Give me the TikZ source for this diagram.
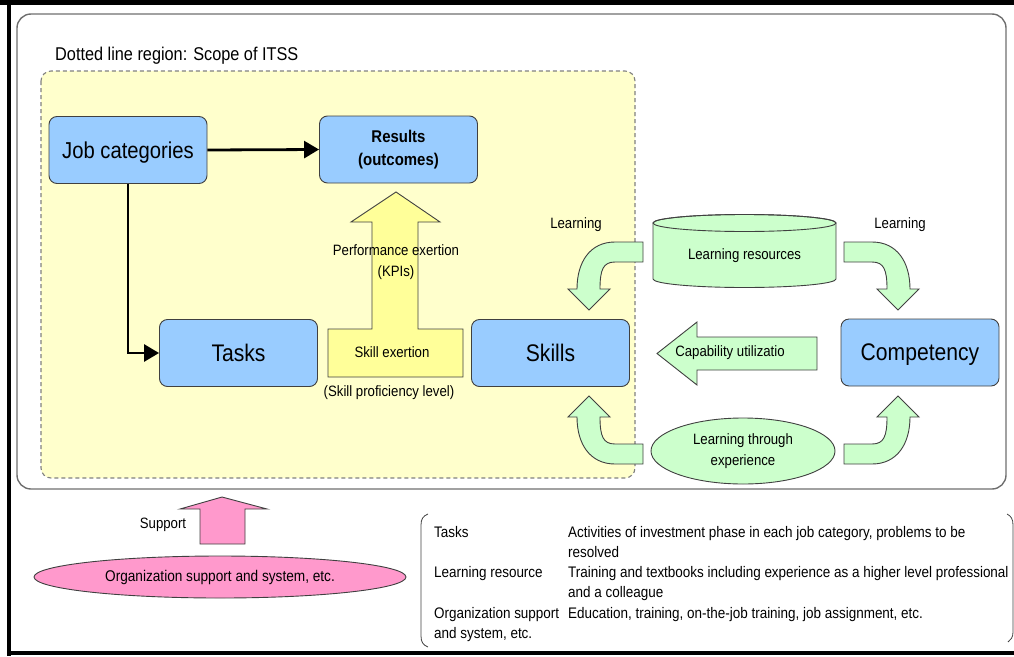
\documentclass[tikz,border=0pt]{standalone}
\usepackage{fontspec}
\setmainfont{Liberation Sans}[FakeStretch=0.88]
\usetikzlibrary{arrows.meta,shapes.geometric}

\definecolor{boxblue}{HTML}{99CCFF}
\definecolor{scopeyellow}{HTML}{FFFFCC}
\definecolor{arrowyellow}{HTML}{FFFF99}
\definecolor{learngreen}{HTML}{CCFFCC}
\definecolor{orgpink}{HTML}{FF99CC}
\definecolor{edgegray}{HTML}{404040}
\definecolor{framegray}{HTML}{6E6E6E}

% outline of the bent block arrow leading from the learning resources to the skills
\newcommand\bentarrowpath{(643,242) -- (615,242) .. controls (590,242) and (577,262) .. (577,289)
  -- (568,289) -- (589,310) -- (610,289) -- (600,289)
  .. controls (600,270) and (603,262) .. (615,262) -- (643,262) -- cycle}

\tikzset{
  rolebox/.style={draw=edgegray, fill=boxblue, line width=0.9pt, rounded corners=8pt,
    minimum width=158pt, minimum height=67pt, inner sep=0pt, align=center},
  link/.style={line width=2.8pt, -{Triangle[length=15pt,width=17pt]}},
  lbl/.style={inner sep=0pt, align=center, font=\fontsize{15}{21}\selectfont},
  blockarrow/.style={draw=edgegray, line width=0.9pt},
  legend/.style={inner sep=0pt, anchor=base west, font=\fontsize{15.3}{20}\selectfont},
}

\begin{document}
\begin{tikzpicture}[x=1pt, y=-1pt]
\useasboundingbox (0,0) rectangle (1014,656);

% black frame
\fill[black] (0,0) rectangle (1014,5);
\fill[black] (7,0) rectangle (11,656);
\fill[black] (7,651) rectangle (1014,655);

% outer rounded panel
\draw[framegray, line width=1.4pt, rounded corners=14pt] (17,14) rectangle (1006,489);

% scope of ITSS
\draw[draw=gray, fill=scopeyellow, line width=1.1pt, dash pattern=on 4pt off 3pt,
      rounded corners=10pt] (41,71) rectangle (635,478);
\node[anchor=west, inner sep=0pt, font=\fontsize{18.5}{22}\selectfont] (scopetitle) at (55,56)
  {Dotted line region: Scope of ITSS};

% role boxes
\node[rolebox, text depth=0pt, font=\fontsize{23}{26}\selectfont] (job) at (128,150) {Job categories};
\node[rolebox, font=\fontsize{17}{23}\selectfont\bfseries] (res) at (398.5,149.5) {Results\\(outcomes)};
\node[rolebox, font=\fontsize{24}{28}\selectfont] (tasks) at (238.5,353) {Tasks};
\node[rolebox, font=\fontsize{24}{28}\selectfont] (skills) at (550.5,353) {Skills};
\node[rolebox, text depth=0pt, font=\fontsize{24}{28}\selectfont] (comp) at (920,352.5) {Competency};

\draw[link] (job.east) -- (res.west);
\draw[link] (job.south) |- (tasks.west);

% skill exertion block arrow
\draw[blockarrow, fill=arrowyellow] (328,329) -- (372,329) -- (372,222) -- (351,222) -- (396,192)
  -- (440,222) -- (418,222) -- (418,329) -- (463,329) -- (463,377) -- (328,377) -- cycle;
\node[lbl] (perf) at (396,262) {Performance exertion\\(KPIs)};
\node[lbl] (exert) at (392,352) {Skill exertion};
\node[lbl] (prof) at (389,393) {(Skill proficiency level)};

% learning resources cylinder
\draw[blockarrow, fill=learngreen] (653,223) -- (653,279)
  arc[start angle=180, end angle=360, x radius=91.5pt, y radius=8.5pt]
  -- (836,223) arc[start angle=0, end angle=180, x radius=91.5pt, y radius=8.5pt] -- cycle;
\draw[blockarrow] (744.5,223) ellipse [x radius=91.5pt, y radius=8.5pt];
\node[lbl] (lres) at (744.5,256) {Learning resources};

% learning through experience
\node[ellipse, draw=edgegray, fill=learngreen, line width=0.9pt, minimum width=184pt,
      minimum height=66pt, inner sep=0pt, align=center, font=\fontsize{15}{21}\selectfont]
  (lexp) at (743,451) {Learning through\\experience};

% bent learning arrows
\draw[blockarrow, fill=learngreen] \bentarrowpath;
\begin{scope}[shift={(1487,0)}, xscale=-1]
  \draw[blockarrow, fill=learngreen] \bentarrowpath;
\end{scope}
\begin{scope}[shift={(0,706)}, yscale=-1]
  \draw[blockarrow, fill=learngreen] \bentarrowpath;
\end{scope}
\begin{scope}[shift={(1487,706)}, xscale=-1, yscale=-1]
  \draw[blockarrow, fill=learngreen] \bentarrowpath;
\end{scope}
\node[lbl] (learnl) at (576,225) {Learning};
\node[lbl] (learnr) at (900,225) {Learning};

% capability utilization arrow
\draw[blockarrow, fill=learngreen] (817,337) -- (697,337) -- (697,322) -- (657,353.5)
  -- (697,385) -- (697,370) -- (817,370) -- cycle;
\node[lbl] (cap) at (730,353) {Capability utilizatio};

% organization support
\draw[blockarrow, fill=orgpink] (200,544) -- (200,509) -- (180,509) -- (222,497) -- (267,509)
  -- (245,509) -- (245,544) -- cycle;
\node[lbl] (sup) at (163,525) {Support};
\node[ellipse, draw=edgegray, fill=orgpink, line width=0.9pt, minimum width=372pt,
      minimum height=42pt, inner sep=0pt, font=\fontsize{15.5}{21}\selectfont]
  (org) at (220,577) {Organization support and system, etc.};

% legend
\draw[edgegray, line width=0.8pt] (428,514) .. controls (423,516) and (421,519) .. (421,525)
  -- (421,636) .. controls (421,642) and (423,645) .. (428,647);
\draw[edgegray, line width=0.8pt] (1007,514) .. controls (1011,516) and (1013,519) .. (1013,525)
  -- (1013,632) .. controls (1013,637) and (1011,640) .. (1008,642);
\node[legend] (l1a) at (434,537) {Tasks};
\node[legend] (l1b) at (568,537) {Activities of investment phase in each job category, problems to be};
\node[legend] (l1c) at (568,557) {resolved};
\node[legend] (l2a) at (434,577) {Learning resource};
\node[legend] (l2b) at (568,577) {Training and textbooks including experience as a higher level professional};
\node[legend] (l2c) at (568,597) {and a colleague};
\node[legend] (l3a) at (434,618) {Organization support};
\node[legend] (l3b) at (568,618) {Education, training, on-the-job training, job assignment, etc.};
\node[legend] (l3c) at (434,638) {and system, etc.};
\end{tikzpicture}
\end{document}
